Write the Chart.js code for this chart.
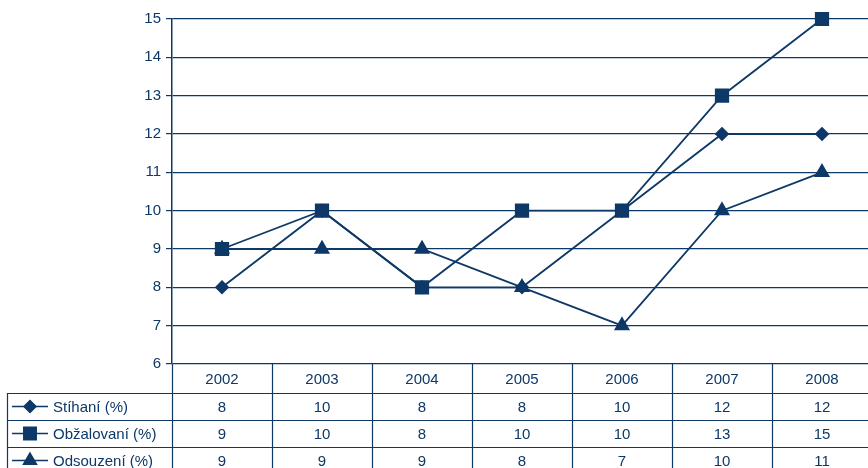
<!DOCTYPE html>
<html>
<head>
<meta charset="utf-8">
<script src="https://cdn.jsdelivr.net/npm/chart.js@4/dist/chart.umd.min.js"></script>
<style>
  html, body { margin: 0; padding: 0; background: #fff; overflow: hidden; }
  #wrap { width: 880px; height: 468px; }
</style>
</head>
<body>
<div id="wrap"><canvas id="myChart"></canvas></div>
<script>
// data
var years = ['2002', '2003', '2004', '2005', '2006', '2007', '2008'];
var stihani = [8, 10, 8, 8, 10, 12, 12];
var obzalovani = [9, 10, 8, 10, 10, 13, 15];
var odsouzeni = [9, 9, 9, 8, 7, 10, 11];
var seriesNames = ['Stíhaní (%)', 'Obžalovaní (%)', 'Odsouzení (%)'];

var navy = '#0d3867';
var font = '"Liberation Sans", Arial, sans-serif';

/* Data table under the plot */
var tablePlugin = {
    id: 'dataTable',
    afterDraw: function (chart) {
        var ctx = chart.ctx;
        var xs = chart.scales.x;
        var area = chart.chartArea;
        var top = area.bottom;
        var headH = 29, rowH = 27;
        var half = (xs.getPixelForValue(1) - xs.getPixelForValue(0)) / 2;
        var right = xs.getPixelForValue(years.length - 1) + half;
        var bottom = top + headH + rowH * 3;

        ctx.save();
        ctx.strokeStyle = navy;
        ctx.lineWidth = 1.2;
        ctx.beginPath();
        // column boundaries
        for (var i = 0; i <= years.length; i++) {
            var bx = Math.round(xs.getPixelForValue(i) - half) + 0.5;
            ctx.moveTo(bx, top);
            ctx.lineTo(bx, bottom);
        }
        // left border of series rows
        ctx.moveTo(7.5, top + headH);
        ctx.lineTo(7.5, bottom);
        // row lines
        for (var r = 0; r <= 3; r++) {
            var ry = Math.round(top + headH + r * rowH) + 0.5;
            ctx.moveTo(7, ry);
            ctx.lineTo(right, ry);
        }
        ctx.stroke();

        ctx.fillStyle = navy;
        ctx.font = '15px ' + font;
        ctx.textBaseline = 'middle';
        ctx.textAlign = 'center';
        years.forEach(function (y, i) {
            ctx.fillText(y, xs.getPixelForValue(i), top + headH / 2 + 1);
        });

        chart.data.datasets.forEach(function (ds, r) {
            var cy = top + headH + r * rowH + rowH / 2 + 1;
            ctx.textAlign = 'center';
            ds.data.forEach(function (v, i) {
                ctx.fillText(String(v), xs.getPixelForValue(i), cy);
            });
            // legend key
            ctx.beginPath();
            ctx.lineWidth = 1.5;
            ctx.moveTo(12, cy - 1);
            ctx.lineTo(48, cy - 1);
            ctx.stroke();
            Chart.helpers.drawPoint(ctx, {
                pointStyle: ds.pointStyle,
                radius: ds.pointRadius,
                rotation: 0,
                borderWidth: 1
            }, 30, cy - 1);
            ctx.fillStyle = navy;
            ctx.textAlign = 'left';
            ctx.fillText(seriesNames[r], 53, cy);
        });
        ctx.restore();
    }
};

var ctx = document.getElementById('myChart').getContext('2d');
var chart = new Chart(ctx, {
    type: 'line',
    data: {
        labels: years,
        datasets: [
            {
                label: seriesNames[0],
                data: stihani,
                borderColor: navy,
                backgroundColor: navy,
                borderWidth: 1.8,
                pointStyle: 'rectRot',
                pointRadius: 6,
                order: 2,
                clip: false
            },
            {
                label: seriesNames[1],
                data: obzalovani,
                borderColor: navy,
                backgroundColor: navy,
                borderWidth: 1.8,
                pointStyle: 'rect',
                pointRadius: 8.8,
                order: 0,
                clip: false
            },
            {
                label: seriesNames[2],
                data: odsouzeni,
                borderColor: navy,
                backgroundColor: navy,
                borderWidth: 1.8,
                pointStyle: 'triangle',
                pointRadius: 7.5,
                order: 1,
                clip: false
            }
        ]
    },
    options: {
        responsive: true,
        maintainAspectRatio: false,
        animation: false,
        layout: {
            autoPadding: false,
            padding: { top: 19, right: 8, bottom: 104, left: 0 }
        },
        plugins: {
            legend: { display: false },
            tooltip: { enabled: false }
        },
        scales: {
            x: {
                display: false,
                offset: true
            },
            y: {
                min: 6,
                max: 15,
                afterFit: function (scale) { scale.width = 172; },
                ticks: {
                    stepSize: 1,
                    color: navy,
                    padding: 5,
                    font: { family: font, size: 15 }
                },
                grid: {
                    color: navy,
                    lineWidth: 1.2,
                    tickLength: 6
                },
                border: { color: navy, width: 1.5 }
            }
        }
    },
    plugins: [tablePlugin]
});
</script>
</body>
</html>
